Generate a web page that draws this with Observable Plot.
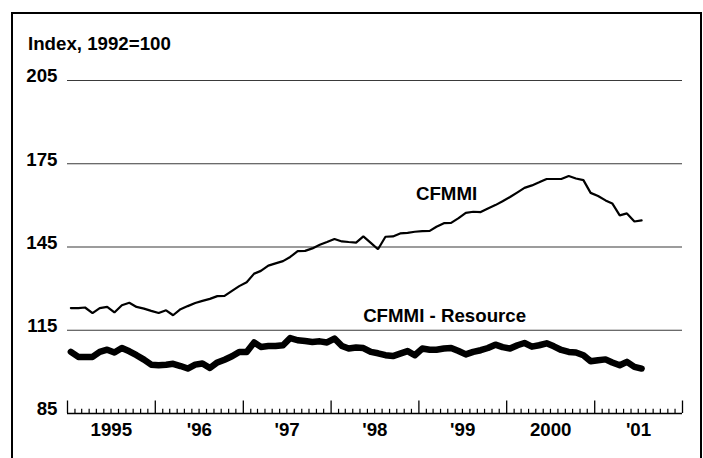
<!DOCTYPE html>
<html>
<head>
<meta charset="utf-8">
<script src="https://cdn.jsdelivr.net/npm/d3@7"></script>
<script src="https://cdn.jsdelivr.net/npm/@observablehq/plot@0.6"></script>
<style>
  html, body { margin: 0; padding: 0; background: #fff; overflow: hidden; }
  #wrap { position: relative; width: 703px; height: 458px; overflow: hidden;
          font-family: "Liberation Sans", Arial, sans-serif; }
  #frame { position: absolute; left: 11px; top: 12px; width: 687px; height: 470px;
           border: 2px solid #000; }
  #ylabel { position: absolute; left: 28px; top: 33px; font-size: 18.7px; font-weight: bold;
            color: #000; white-space: nowrap; }
  #chart { position: absolute; left: 0; top: 0; }
</style>
</head>
<body>
<div id="wrap">
  <div id="frame"></div>
  <div id="chart"></div>
  <div id="ylabel">Index, 1992=100</div>
</div>
<script>
// Monthly index values, January 1995 to July 2001
const startYear = 1995;
const cfmmi = [
  123.0,123.0,123.2,121.2,123.0,123.4,121.4,124.0,124.9,123.4,122.8,122.0,
  121.2,122.2,120.4,122.6,123.7,124.8,125.6,126.3,127.3,127.4,129.2,130.9,
  132.3,135.4,136.4,138.3,139.1,139.9,141.4,143.5,143.6,144.5,145.8,146.8,
  147.9,147.0,146.8,146.6,148.8,146.5,144.2,148.7,148.8,149.9,150.1,150.5,
  150.7,150.8,152.3,153.6,153.7,155.4,157.3,157.7,157.6,158.9,160.1,161.5,
  163.0,164.7,166.3,167.2,168.3,169.5,169.5,169.5,170.6,169.7,169.1,164.5,
  163.4,161.8,160.7,156.4,157.1,154.2,154.6
];
const resource = [
  107.2,105.4,105.4,105.4,107.2,108.0,107.0,108.6,107.4,106.0,104.4,102.6,
  102.4,102.6,102.9,102.1,101.2,102.6,103.0,101.4,103.4,104.4,105.6,107.2,
  107.2,110.6,109.0,109.3,109.3,109.6,112.2,111.4,111.1,110.8,111.0,110.6,
  112.0,109.3,108.4,108.8,108.6,107.2,106.7,106.0,105.7,106.6,107.5,106.0,
  108.4,108.0,108.0,108.4,108.6,107.5,106.3,107.2,107.8,108.6,109.8,108.9,
  108.4,109.6,110.4,109.1,109.6,110.3,109.2,107.9,107.2,107.0,106.0,103.8,
  104.2,104.5,103.4,102.4,103.6,101.8,101.2
];
const yTicks = [85, 115, 145, 175, 205];
const yearLabels = ["1995", "'96", "'97", "'98", "'99", "2000", "'01"];
const seriesNames = ["CFMMI", "CFMMI - Resource"];
const seriesLabelX = [new Date(Date.UTC(1999, 3, 26)), new Date(Date.UTC(1999, 3, 18))];
const seriesLabelY = [164.2, 120.2];

const monthDate = i => new Date(Date.UTC(startYear, i, 15));
const cfRows = cfmmi.map((v, i) => ({date: monthDate(i), value: v}));
const resRows = resource.map((v, i) => ({date: monthDate(i), value: v}));
const years = yearLabels.map((t, i) => startYear + i);
const xStart = new Date(Date.UTC(startYear, 0, 1));
const xEnd = new Date(Date.UTC(startYear + years.length, 0, 1));
const monthTicks = d3.utcMonth.range(xStart, d3.utcMonth.offset(xEnd, 1));
const minorTicks = monthTicks.filter(d => d.getUTCMonth() !== 0);
const majorTicks = monthTicks.filter(d => d.getUTCMonth() === 0);
const yearMid = years.map(y => new Date(Date.UTC(y, 6, 2)));

const marginTop = 80, marginBottom = 45, H = 458;
const pxPerUnit = (H - marginTop - marginBottom) / (yTicks[yTicks.length - 1] - yTicks[0]);
const font = 18.7;

const chart = Plot.plot({
  width: 703,
  height: H,
  marginLeft: 67,
  marginRight: 21,
  marginTop,
  marginBottom,
  x: {type: "utc", domain: [xStart, xEnd], axis: null},
  y: {domain: [yTicks[0], yTicks[yTicks.length - 1]], axis: null},
  style: {fontFamily: "'Liberation Sans', Arial, sans-serif", background: "transparent", color: "#000"},
  marks: [
    Plot.ruleY(yTicks.slice(1), {stroke: "#3a3a3a", strokeWidth: 1.2}),
    Plot.ruleY([yTicks[0]], {stroke: "#000", strokeWidth: 1.5}),
    Plot.ruleX(minorTicks, {x: d => d, y1: yTicks[0], y2: yTicks[0] + 4.2 / pxPerUnit, stroke: "#000", strokeWidth: 1.2}),
    Plot.ruleX(majorTicks, {x: d => d, y1: yTicks[0], y2: yTicks[0] + 12.5 / pxPerUnit, stroke: "#000", strokeWidth: 1.3}),
    Plot.text(yTicks, {y: d => d, frameAnchor: "left", text: d => String(d), textAnchor: "end",
      dx: -10, dy: -4, fontSize: font, fontWeight: "bold", fill: "#000"}),
    Plot.text(yearLabels, {x: (d, i) => yearMid[i], y: yTicks[0], text: d => d, dy: 17,
      fontSize: font, fontWeight: "bold", fill: "#000"}),
    Plot.line(resRows, {x: "date", y: "value", stroke: "#000", strokeWidth: 6.5,
      strokeLinejoin: "round", strokeLinecap: "round"}),
    Plot.line(cfRows, {x: "date", y: "value", stroke: "#000", strokeWidth: 2.2,
      strokeLinejoin: "miter"}),
    Plot.text(seriesNames, {x: (d, i) => seriesLabelX[i], y: (d, i) => seriesLabelY[i], text: d => d,
      fontSize: font, fontWeight: "bold", fill: "#000"})
  ]
});
document.getElementById("chart").appendChild(chart);
</script>
</body>
</html>
